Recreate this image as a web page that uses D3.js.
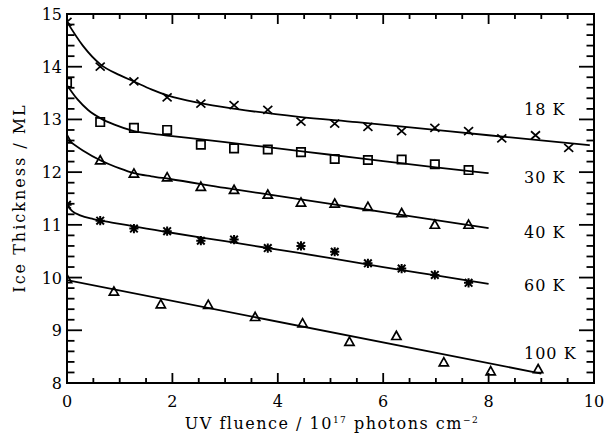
<!DOCTYPE html>
<html>
<head>
<meta charset="utf-8">
<script src="https://cdn.jsdelivr.net/npm/d3@7"></script>
<style>
body { margin: 0; background: #fff; }
text { font-family: "DejaVu Serif", serif; fill: #000; }
</style>
</head>
<body>
<div id="chart"></div>
<script>
// measured points, fluence in 1e17 photons cm^-2, thickness in ML
var fluence = [0, 0.63, 1.27, 1.9, 2.54, 3.17, 3.81, 4.44, 5.08, 5.71, 6.35, 6.98, 7.62, 8.25, 8.89, 9.52];
var fluence100 = [0, 0.89, 1.78, 2.68, 3.57, 4.47, 5.36, 6.25, 7.15, 8.04, 8.94];

var thick18 = [14.85, 14.0, 13.72, 13.42, 13.3, 13.27, 13.18, 12.96, 12.92, 12.86, 12.78, 12.84, 12.78, 12.64, 12.70, 12.46];
var thick30 = [13.7, 12.95, 12.84, 12.8, 12.52, 12.45, 12.43, 12.38, 12.25, 12.23, 12.24, 12.15, 12.04];
var thick40 = [12.62, 12.22, 11.97, 11.9, 11.72, 11.66, 11.57, 11.42, 11.4, 11.34, 11.22, 11.0, 11.0];
var thick60 = [11.38, 11.08, 10.93, 10.88, 10.7, 10.72, 10.56, 10.6, 10.49, 10.27, 10.17, 10.05, 9.9];
var thick100 = [9.97, 9.73, 9.49, 9.48, 9.25, 9.13, 8.78, 8.89, 8.39, 8.22, 8.26];

// fit curves, sampled off the plot
var fitX18 = [0, 0.3, 0.64, 1.0, 1.27, 1.6, 1.92, 2.52, 3.2, 4.4, 5.5, 6.32, 8.0, 9.92];
var fitY18 = [14.85, 14.4, 14.04, 13.84, 13.72, 13.57, 13.45, 13.31, 13.2, 13.05, 12.95, 12.87, 12.70, 12.51];
var fitX30 = [0, 0.2, 0.4, 0.64, 0.9, 1.27, 1.6, 1.95, 3, 4, 5, 6, 7, 8];
var fitY30 = [13.65, 13.38, 13.18, 13.02, 12.9, 12.78, 12.73, 12.69, 12.57, 12.45, 12.33, 12.21, 12.09, 11.98];
var fitX40 = [0, 0.3, 0.64, 1.0, 1.27, 1.6, 1.95, 3, 4, 5, 6, 7, 8];
var fitY40 = [12.62, 12.41, 12.22, 12.07, 11.98, 11.92, 11.87, 11.70, 11.55, 11.40, 11.24, 11.09, 10.94];
var fitX60 = [0, 0.1, 0.25, 0.5, 0.64, 1.0, 1.27, 1.92, 3, 4, 5, 6, 7, 8];
var fitY60 = [11.37, 11.26, 11.18, 11.11, 11.08, 11.02, 10.97, 10.86, 10.69, 10.53, 10.37, 10.20, 10.04, 9.88];
var fitX100 = [0, 9.0];
var fitY100 = [9.95, 8.18];

var tempLabels = ["18 K", "30 K", "40 K", "60 K", "100 K"];
var labelY = [13.2, 11.91, 10.86, 9.86, 8.57];
var xTicks = [0, 2, 4, 6, 8, 10];
var yTicks = [8, 9, 10, 11, 12, 13, 14, 15];

var width = 605, height = 435;
var margin = {left: 67, right: 11, top: 14, bottom: 52};

var svg = d3.select("#chart").append("svg")
	.attr("width", width)
	.attr("height", height);

var x = d3.scaleLinear().domain([0, 10]).range([margin.left, width - margin.right]);
var y = d3.scaleLinear().domain([8, 15]).range([height - margin.bottom, margin.top]);

svg.append("clipPath").attr("id", "plotclip")
	.append("rect")
	.attr("x", x(0)).attr("y", y(15))
	.attr("width", x(10) - x(0)).attr("height", y(8) - y(15));

var plot = svg.append("g").attr("clip-path", "url(#plotclip)");

// fit lines
var fits = [[fitX18, fitY18], [fitX30, fitY30], [fitX40, fitY40], [fitX60, fitY60], [fitX100, fitY100]];
var line = d3.line()
	.x(function(d) { return x(d[0]); })
	.y(function(d) { return y(d[1]); })
	.curve(d3.curveMonotoneX);

fits.forEach(function(f) {
	var pts = f[0].map(function(v, i) { return [v, f[1][i]]; });
	plot.append("path")
		.attr("d", line(pts))
		.attr("fill", "none")
		.attr("stroke", "#000")
		.attr("stroke-width", 1.8);
});

// symbols
function symbolPath(kind) {
	if (kind == "x") return "M-4.5,-4L4.5,4M-4.5,4L4.5,-4";
	if (kind == "sq") return "M-4.2,-4.2H4.2V4.2H-4.2Z";
	if (kind == "tri") return "M0,-4.8L4.6,3.4H-4.6Z";
	return "M-4.6,0H4.6M0,-4.6V4.6M-3.8,-3.8L3.8,3.8M-3.8,3.8L3.8,-3.8";
}

var series = [
	{xs: fluence, ys: thick18, sym: "x"},
	{xs: fluence, ys: thick30, sym: "sq"},
	{xs: fluence, ys: thick40, sym: "tri"},
	{xs: fluence, ys: thick60, sym: "ast"},
	{xs: fluence100, ys: thick100, sym: "tri"}
];

series.forEach(function(s) {
	var pts = s.ys.map(function(v, i) { return [s.xs[i], v]; });
	plot.selectAll(null)
		.data(pts)
		.enter()
		.append("path")
		.attr("transform", function(d) { return "translate(" + x(d[0]) + "," + y(d[1]) + ")"; })
		.attr("d", symbolPath(s.sym))
		.attr("fill", "none")
		.attr("stroke", "#000")
		.attr("stroke-width", s.sym == "ast" ? 2 : 1.7);
});

// frame + ticks
var frame = svg.append("g");
frame.append("rect")
	.attr("x", x(0)).attr("y", y(15))
	.attr("width", x(10) - x(0)).attr("height", y(8) - y(15))
	.attr("fill", "none").attr("stroke", "#000").attr("stroke-width", 2);

var xMinor = d3.range(0, 10.001, 0.5);
var yMinor = d3.range(8, 15.001, 0.2);

xMinor.forEach(function(v) {
	var major = Math.abs(v - Math.round(v / 2) * 2) < 1e-6;
	var len = major ? 10 : 5;
	frame.append("line").attr("x1", x(v)).attr("x2", x(v))
		.attr("y1", y(8)).attr("y2", y(8) - len)
		.attr("stroke", "#000").attr("stroke-width", 1.8);
	frame.append("line").attr("x1", x(v)).attr("x2", x(v))
		.attr("y1", y(15)).attr("y2", y(15) + len)
		.attr("stroke", "#000").attr("stroke-width", 1.8);
});

yMinor.forEach(function(v) {
	var major = Math.abs(v - Math.round(v)) < 1e-6;
	var len = major ? 15 : 7.5;
	frame.append("line").attr("x1", x(0)).attr("x2", x(0) + len)
		.attr("y1", y(v)).attr("y2", y(v))
		.attr("stroke", "#000").attr("stroke-width", 1.8);
	frame.append("line").attr("x1", x(10)).attr("x2", x(10) - len)
		.attr("y1", y(v)).attr("y2", y(v))
		.attr("stroke", "#000").attr("stroke-width", 1.8);
});

svg.selectAll("text.xt")
	.data(xTicks)
	.enter()
	.append("text")
	.attr("class", "xt")
	.attr("x", function(d) { return x(d); })
	.attr("y", 407)
	.attr("text-anchor", "middle")
	.attr("font-size", 16)
	.text(function(d) { return d; });

svg.selectAll("text.yt")
	.data(yTicks)
	.enter()
	.append("text")
	.attr("class", "yt")
	.attr("x", 62)
	.attr("y", function(d) { return y(d) + 6; })
	.attr("text-anchor", "end")
	.attr("font-size", 16)
	.text(function(d) { return d; });

// curve labels
svg.selectAll("text.lab")
	.data(tempLabels)
	.enter()
	.append("text")
	.attr("class", "lab")
	.attr("x", 524)
	.attr("y", function(d, i) { return y(labelY[i]) + 6; })
	.attr("font-size", 16)
	.attr("letter-spacing", 1)
	.text(function(d) { return d; });

// axis titles
var xt = svg.append("text")
	.attr("x", 332)
	.attr("y", 429)
	.attr("text-anchor", "middle")
	.attr("font-size", 16)
	.attr("letter-spacing", 1.5);
xt.append("tspan").text("UV fluence / 10");
xt.append("tspan").attr("font-size", 9).attr("dy", -6).text("17");
xt.append("tspan").attr("dy", 6).text(" photons cm");
xt.append("tspan").attr("font-size", 9).attr("dy", -6).text("\u22122");

svg.append("text")
	.attr("transform", "translate(25,198) rotate(-90)")
	.attr("text-anchor", "middle")
	.attr("font-size", 16)
	.attr("letter-spacing", 2)
	.text("Ice Thickness / ML");
</script>
</body>
</html>
